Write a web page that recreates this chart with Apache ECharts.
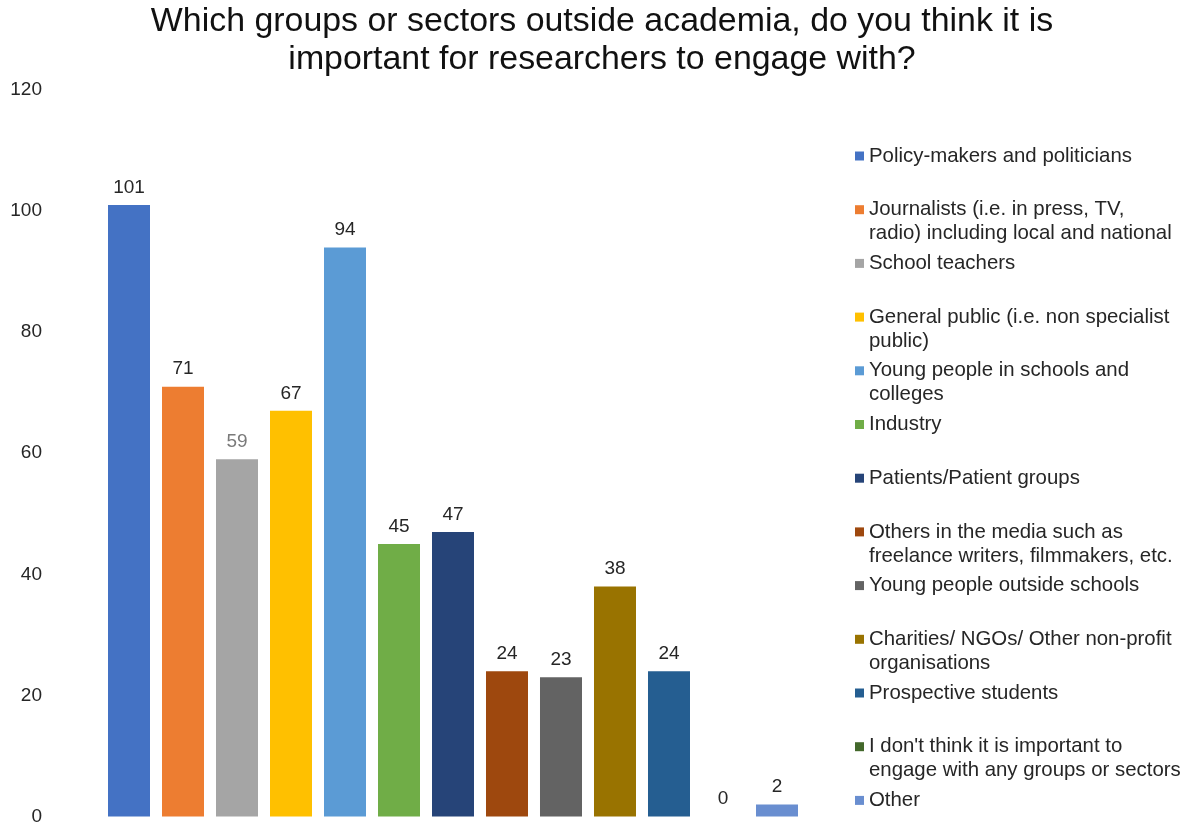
<!DOCTYPE html>
<html>
<head>
<meta charset="utf-8">
<script src="https://cdn.jsdelivr.net/npm/echarts@6/dist/echarts.min.js"></script>
<style>html,body{margin:0;padding:0;background:#fff;}#c{width:1189px;height:826px;}</style>
</head>
<body>
<div id="c"></div>
<script>
const titleText = 'Which groups or sectors outside academia, do you think it is\nimportant for researchers to engage with?';
const categories = [
  'Policy-makers and politicians',
  'Journalists (i.e. in press, TV, radio) including local and national',
  'School teachers',
  'General public (i.e. non specialist public)',
  'Young people in schools and colleges',
  'Industry',
  'Patients/Patient groups',
  'Others in the media such as freelance writers, filmmakers, etc.',
  'Young people outside schools',
  'Charities/ NGOs/ Other non-profit organisations',
  'Prospective students',
  "I don't think it is important to engage with any groups or sectors",
  'Other'
];
const legendLines = [
  ['Policy-makers and politicians'],
  ['Journalists (i.e. in press, TV,', 'radio) including local and national'],
  ['School teachers'],
  ['General public (i.e. non specialist', 'public)'],
  ['Young people in schools and', 'colleges'],
  ['Industry'],
  ['Patients/Patient groups'],
  ['Others in the media such as', 'freelance writers, filmmakers, etc.'],
  ['Young people outside schools'],
  ['Charities/ NGOs/ Other non-profit', 'organisations'],
  ['Prospective students'],
  ["I don't think it is important to", 'engage with any groups or sectors'],
  ['Other']
];
const values = [101, 71, 59, 67, 94, 45, 47, 24, 23, 38, 24, 0, 2];
const colors = ['#4472C4', '#ED7D31', '#A5A5A5', '#FFC000', '#5B9BD5', '#70AD47', '#264478',
                '#9E480E', '#636363', '#997300', '#255E91', '#43682B', '#698ED0'];
const labelColors = ['#262626', '#262626', '#7a7a7a', '#262626', '#262626', '#262626', '#262626',
                     '#262626', '#262626', '#262626', '#262626', '#262626', '#262626'];
const yTicks = { min: 0, max: 120, interval: 20 };

const FONT = '"Liberation Sans", Arial, sans-serif';
const chart = echarts.init(document.getElementById('c'), null, { renderer: 'canvas' });

const series = categories.map((name, i) => ({
  name: name,
  type: 'bar',
  data: [values[i]],
  barWidth: 42,
  barGap: '28.57%',
  itemStyle: { color: colors[i] },
  label: {
    show: true,
    position: 'top',
    distance: 8,
    fontSize: 19,
    fontFamily: FONT,
    color: labelColors[i]
  }
}));

chart.setOption({
  backgroundColor: '#ffffff',
  animation: false,
  title: {
    text: titleText,
    left: 602,
    textAlign: 'center',
    top: 2.5,
    padding: 0,
    textStyle: { fontSize: 33.9, fontWeight: 'normal', color: '#111', fontFamily: FONT, lineHeight: 38.4 }
  },
  grid: { left: 102, right: 385, top: 90, bottom: 9, containLabel: false },
  xAxis: {
    type: 'category',
    data: [''],
    axisLine: { show: false },
    axisTick: { show: false },
    axisLabel: { show: false },
    splitLine: { show: false }
  },
  yAxis: {
    type: 'value',
    min: yTicks.min,
    max: yTicks.max,
    interval: yTicks.interval,
    axisLine: { show: false },
    axisTick: { show: false },
    splitLine: { show: false },
    axisLabel: { fontSize: 19, color: '#262626', fontFamily: FONT, margin: 60 }
  },
  legend: {
    orient: 'vertical',
    left: 855,
    top: 120,
    height: 760,
    padding: 0,
    itemWidth: 9,
    itemHeight: 9,
    itemGap: -18.3,
    icon: 'rect',
    data: categories,
    formatter: function (name) {
      const lines = legendLines[categories.indexOf(name)];
      return ' \n' + lines[0] + '\n' + (lines.length > 1 ? lines[1] : ' ');
    },
    textStyle: {
      fontSize: 20.4,
      lineHeight: 24,
      color: '#262626',
      fontFamily: FONT
    }
  },
  series: series
});
</script>
</body>
</html>
